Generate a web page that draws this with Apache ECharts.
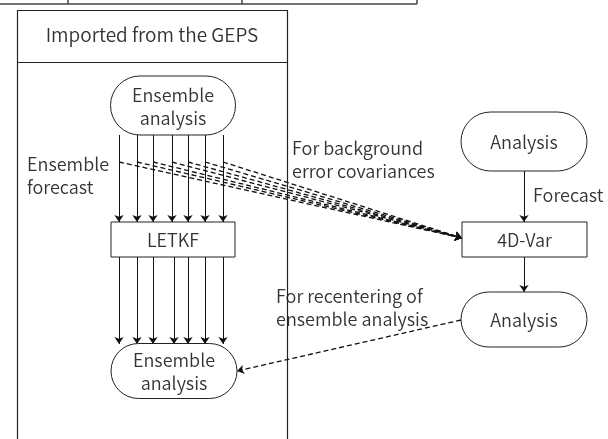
<!DOCTYPE html>
<html>
<head>
<meta charset="utf-8">
<script src="https://cdn.jsdelivr.net/npm/echarts@6/dist/echarts.min.js"></script>
<style>
  html, body { margin: 0; padding: 0; background: #fff; }
  #chart { width: 608px; height: 439px; }
</style>
</head>
<body>
<div id="chart"></div>
<script>
// flow boxes (centre x, centre y, width, height in page units)
const nodeLabels = ['Ensemble\nanalysis', 'LETKF', 'Ensemble\nanalysis', 'Analysis', '4D-Var', 'Analysis']
const nodeX = [173, 173, 174, 524, 524.5, 524]
const nodeY = [105.5, 239.5, 371, 141.5, 239.5, 319.5]
const nodeW = [125, 124, 126, 126, 125, 126]
const nodeH = [59, 35, 55, 59, 35, 55]
const nodeRound = [true, false, true, true, false, true]

// ensemble member arrows
const upperArrowX = [119, 137, 153, 172, 188, 205, 223]
const lowerArrowX = [119, 137, 153, 174, 188, 205, 223]

// free text labels
const noteLabels = ['Imported from the GEPS', 'Ensemble\nforecast', 'For background\nerror covariances', 'Forecast', 'For recentering of\nensemble analysis']
const noteX = [152, 27, 292, 533, 276]
const noteY = [35, 176, 160, 195, 308]
const noteAlign = ['center', 'left', 'left', 'left', 'left']

const font = '"Noto Sans CJK JP", "Noto Sans", sans-serif'
const textColor = '#333'

const solidArrows = []
upperArrowX.forEach(x => solidArrows.push({ coords: [[x, 135], [x, 222]] }))
lowerArrowX.forEach(x => solidArrows.push({ coords: [[x, 257], [x, 344]] }))
solidArrows.push({ coords: [[524, 171], [524, 222]] })
solidArrows.push({ coords: [[524, 257], [524, 292]] })

const dashedArrows = upperArrowX.map(x => ({ coords: [[x, 162], [462, 238]] }))
dashedArrows.push({ coords: [[461, 320], [237, 371]] })

// frame around the GEPS part and the table stub at the very top
const frameLines = [
  { coords: [[17, 10], [17, 439]] },
  { coords: [[287, 10], [287, 439]] },
  { coords: [[17, 10], [287, 10]] },
  { coords: [[17, 62], [287, 62]] }
]
const tableLines = [
  { coords: [[0, 4], [417, 4]] },
  { coords: [[68, 0], [68, 4]] },
  { coords: [[242, 0], [242, 4]] },
  { coords: [[417, 0], [417, 4]] }
]

const nodeData = nodeLabels.map((t, i) => [nodeX[i], nodeY[i], nodeW[i], nodeH[i], i])
const noteData = noteLabels.map((t, i) => [noteX[i], noteY[i], i])

const chart = echarts.init(document.getElementById('chart'))
chart.setOption({
  animation: false,
  grid: { left: 0, right: 0, top: 0, bottom: 0 },
  xAxis: { type: 'value', min: 0, max: 608, show: false },
  yAxis: { type: 'value', min: 0, max: 439, inverse: true, show: false },
  series: [
    {
      type: 'lines',
      coordinateSystem: 'cartesian2d',
      symbol: ['none', 'none'],
      lineStyle: { color: '#444', width: 1.5, opacity: 1 },
      data: tableLines,
      z: 1
    },
    {
      type: 'lines',
      coordinateSystem: 'cartesian2d',
      symbol: ['none', 'none'],
      lineStyle: { color: '#222', width: 1.2, opacity: 1 },
      data: frameLines,
      z: 5
    },
    {
      type: 'lines',
      coordinateSystem: 'cartesian2d',
      symbol: ['none', 'arrow'],
      symbolSize: 7,
      lineStyle: { color: '#111', width: 1, opacity: 1 },
      data: solidArrows,
      z: 2
    },
    {
      type: 'lines',
      coordinateSystem: 'cartesian2d',
      symbol: ['none', 'arrow'],
      symbolSize: 7,
      lineStyle: { color: '#111', width: 1.3, type: [5, 3], opacity: 1 },
      data: dashedArrows,
      z: 2
    },
    {
      type: 'custom',
      coordinateSystem: 'cartesian2d',
      data: nodeData,
      z: 3,
      renderItem(params, api) {
        const c = api.coord([api.value(0), api.value(1)])
        const s = api.size([api.value(2), api.value(3)])
        const i = api.value(4)
        const w = s[0]
        const h = s[1]
        return {
          type: 'group',
          children: [
            {
              type: 'rect',
              shape: { x: c[0] - w / 2, y: c[1] - h / 2, width: w, height: h, r: nodeRound[i] ? h / 2 : 0 },
              style: { fill: '#fff', stroke: '#222', lineWidth: 1 }
            },
            {
              type: 'text',
              style: {
                x: c[0], y: c[1] + 1,
                text: nodeLabels[i],
                align: 'center', verticalAlign: 'middle',
                font: '350 18px ' + font,
                lineHeight: 23,
                fill: textColor
              }
            }
          ]
        }
      }
    },
    {
      type: 'custom',
      coordinateSystem: 'cartesian2d',
      data: noteData,
      z: 4,
      renderItem(params, api) {
        const c = api.coord([api.value(0), api.value(1)])
        const i = api.value(2)
        return {
          type: 'text',
          style: {
            x: c[0], y: c[1],
            text: noteLabels[i],
            align: noteAlign[i], verticalAlign: 'middle',
            font: '350 ' + (i === 0 ? '19px ' : '18px ') + font,
            lineHeight: 23,
            fill: textColor
          }
        }
      }
    }
  ]
})
</script>
</body>
</html>
